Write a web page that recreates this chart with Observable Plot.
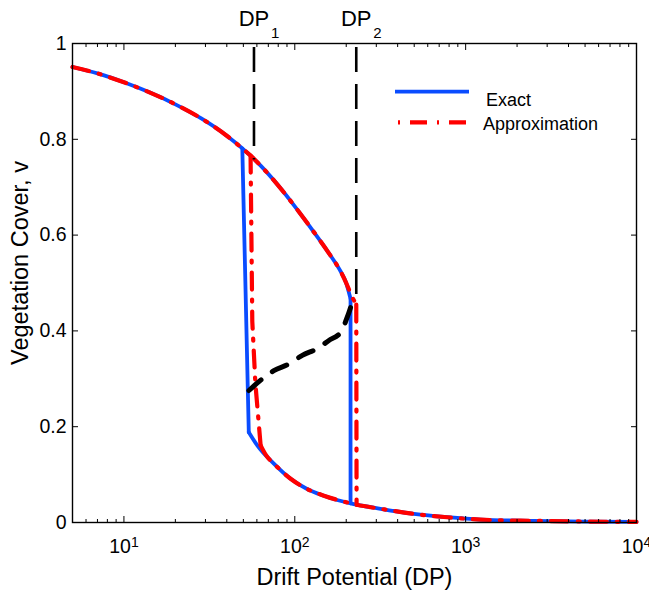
<!DOCTYPE html>
<html><head><meta charset="utf-8">
<script src="https://cdn.jsdelivr.net/npm/d3@7"></script>
<script src="https://cdn.jsdelivr.net/npm/@observablehq/plot@0.6"></script>
<style>
html,body{margin:0;padding:0;background:#fff;}
#chart{width:649px;height:593px;}
</style></head><body><div id="chart"></div>
<script>
// ---- data ----
const exactUpperDP = [5, 7.08, 10, 14.1, 20, 28.2, 39.8, 49.3, 63.1, 79.4, 100, 125.9, 158.5, 186.2, 199.5, 212];
const exactUpperV  = [0.951, 0.937, 0.919, 0.898, 0.873, 0.844, 0.808, 0.781, 0.745, 0.705, 0.660, 0.612, 0.562, 0.523, 0.501, 0.467];
const exactLowerDP = [53.8, 60.3, 75.4, 94.5, 118, 148, 212, 318, 498, 780, 1222, 2500, 5000, 10000];
const exactLowerV  = [0.1885, 0.161, 0.123, 0.0913, 0.070, 0.056, 0.040, 0.0286, 0.018, 0.011, 0.006, 0.0035, 0.002, 0.0012];

const approxUpperDP = [5, 7.08, 10, 14.1, 20, 28.2, 39.8, 49.3, 55.1, 63.1, 79.4, 100, 125.9, 158.5, 186.2, 199.5, 214, 229];
const approxUpperV  = [0.951, 0.937, 0.919, 0.898, 0.873, 0.844, 0.808, 0.781, 0.766, 0.745, 0.705, 0.660, 0.612, 0.562, 0.523, 0.501, 0.475, 0.455];
const approxDropDP  = [55.1, 56.4, 58.8, 63.1];
const approxDropV   = [0.766, 0.42, 0.29, 0.161];
const approxLowerDP = [63.1, 68, 75.4, 94.5, 118, 148, 212, 230, 318, 498, 780, 1222, 2500, 5000, 10000];
const approxLowerV  = [0.161, 0.14, 0.123, 0.0913, 0.070, 0.056, 0.040, 0.037, 0.0286, 0.018, 0.011, 0.006, 0.0035, 0.002, 0.0012];

const unstableDP = [53.9, 64.6, 75.4, 92.4, 110.6, 135.4, 158.3, 185.4, 202.8, 217];
const unstableV  = [0.2756, 0.300, 0.317, 0.331, 0.349, 0.363, 0.380, 0.397, 0.4286, 0.46];

const foldDP    = [57.7, 229];
const foldV     = [0.757, 0.47];
const foldLabel = ["1", "2"];

const xMajor = [10, 100, 1000, 10000];
const xMinor = [6, 7, 8, 9, 20, 30, 40, 50, 60, 70, 80, 90, 200, 300, 400, 500, 600, 700, 800, 900, 2000, 3000, 4000, 5000, 6000, 7000, 8000, 9000];
const yTicks = [0, 0.2, 0.4, 0.6, 0.8, 1];
const yTickLabels = ["0", "0.2", "0.4", "0.6", "0.8", "1"];
const seriesNames = ["Exact", "Approximation"];

// ---- build tables ----
const pts = (dps, vs) => dps.map((d, i) => ({dp: d, v: vs[i]}));
const exactUpper = pts(exactUpperDP, exactUpperV);
const exactLower = pts(exactLowerDP, exactLowerV);
const iUp = exactUpperDP.indexOf(49.3);
const exactJumps = [
  {...exactUpper[iUp], g: 0}, {...exactLower[0], g: 0},
  {...exactUpper[exactUpper.length - 1], g: 1},
  {...exactLower[exactLowerDP.indexOf(212)], g: 1}
];
const approxUpper = pts(approxUpperDP, approxUpperV);
const approxDrop = pts(approxDropDP, approxDropV);
const approxLower = pts(approxLowerDP, approxLowerV);
const approxJump2 = [approxUpper[approxUpper.length - 1], approxLower[approxLowerDP.indexOf(230)]];
const unstable = pts(unstableDP, unstableV);
const folds = foldDP.map((d, i) => ({dp: d, v: foldV[i], lab: foldLabel[i]}));

const BLUE = "#0a4cff", RED = "#ff0000";
const FONT = '"Liberation Sans", Arial, Helvetica, sans-serif';
const redDash = "17 10 2 10";

const chart = Plot.plot({
  width: 649, height: 593,
  marginLeft: 72, marginRight: 13, marginTop: 43, marginBottom: 71,
  x: {type: "log", domain: [5, 10000]},
  y: {domain: [0, 1]},
  style: {fontFamily: FONT, fontSize: "19px", color: "black", background: "white", overflow: "visible"},
  marks: [
    // blue exact
    Plot.line(exactUpper, {x: "dp", y: "v", stroke: BLUE, strokeWidth: 3.8, curve: "monotone-x"}),
    Plot.line(exactLower, {x: "dp", y: "v", stroke: BLUE, strokeWidth: 3.8, curve: "monotone-x"}),
    Plot.line(exactJumps, {x: "dp", y: "v", z: "g", stroke: BLUE, strokeWidth: 3.8}),
    // red approximation
    Plot.line(approxUpper, {x: "dp", y: "v", stroke: RED, strokeWidth: 4.2, curve: "monotone-x", strokeDasharray: redDash}),
    Plot.line(approxDrop, {x: "dp", y: "v", stroke: RED, strokeWidth: 4.2, strokeDasharray: redDash}),
    Plot.line(approxLower, {x: "dp", y: "v", stroke: RED, strokeWidth: 4.2, curve: "monotone-x", strokeDasharray: redDash}),
    Plot.line(approxJump2, {x: "dp", y: "v", stroke: RED, strokeWidth: 4.2, strokeDasharray: redDash}),
    // black dashed
    Plot.line(unstable, {x: "dp", y: "v", stroke: "black", strokeWidth: 5, curve: "monotone-x", strokeDasharray: "16 14"}),
    Plot.ruleX(folds, {x: "dp", y1: 1, y2: "v", stroke: "black", strokeWidth: 2.6, strokeDasharray: "25 12", strokeDashoffset: -4}),
    // DP labels
    Plot.text(folds, {x: "dp", frameAnchor: "top", lineAnchor: "middle", dy: -25, text: () => "DP", fontSize: 22, fill: "black"}),
    Plot.text(folds, {x: "dp", frameAnchor: "top", lineAnchor: "middle", dy: -10, dx: 17, textAnchor: "start", text: "lab", fontSize: 15, fill: "black"}),
    // axes (ticks inside)
    Plot.axisX(xMajor, {anchor: "bottom", tickSize: -6, tickFormat: () => "", label: null}),
    Plot.axisX(xMinor, {anchor: "bottom", tickSize: -3, tickFormat: () => "", label: null}),
    Plot.axisX(xMajor, {anchor: "top", tickSize: -6, tickFormat: () => "", label: null}),
    Plot.axisX(xMinor, {anchor: "top", tickSize: -3, tickFormat: () => "", label: null}),
    Plot.axisX(xMajor, {anchor: "bottom", tickSize: 0, tickPadding: 17, fontSize: 19.5, tickFormat: d => `10^${Math.round(Math.log10(d))}`, label: null}),
    Plot.axisY(yTicks, {anchor: "left", tickSize: -6, tickFormat: () => "", label: null}),
    Plot.axisY(yTicks, {anchor: "right", tickSize: -6, tickFormat: () => "", label: null}),
    Plot.axisY(yTicks, {anchor: "left", tickSize: 0, tickPadding: 6, fontSize: 19.5, tickFormat: d => yTickLabels[yTicks.indexOf(d)], label: null}),
    Plot.frame({stroke: "black", strokeWidth: 1.4}),
    // axis titles
    Plot.text(["Drift Potential (DP)"], {frameAnchor: "bottom", lineAnchor: "middle", textAnchor: "middle", dy: 55, fontSize: 23.5, fill: "black"}),
    Plot.text(["Vegetation Cover, v"], {frameAnchor: "left", lineAnchor: "middle", textAnchor: "middle", dx: -52, dy: -20, rotate: -90, fontSize: 23.5, fill: "black"})
  ]
});

// superscripts for 10^n
chart.querySelectorAll('g[aria-label="x-axis tick label"] text').forEach(t => {
  const s = t.textContent;
  if (!s.includes("^")) return;
  const [base, exp] = s.split("^");
  while (t.firstChild) t.removeChild(t.firstChild);
  t.appendChild(document.createTextNode(base));
  const ts = document.createElementNS("http://www.w3.org/2000/svg", "tspan");
  ts.setAttribute("dy", "-0.45em");
  ts.setAttribute("font-size", "14");
  ts.textContent = exp;
  t.appendChild(ts);
});

// legend inside the axes
const svg = d3.select(chart);
const lg = svg.append("g").attr("font-family", FONT).attr("font-size", 18).attr("text-anchor", "start");
lg.append("line").attr("x1", 395).attr("x2", 469).attr("y1", 91.7).attr("y2", 91.7)
  .attr("stroke", BLUE).attr("stroke-width", 3.8);
lg.append("text").attr("x", 486).attr("y", 106).attr("fill", "black").text(seriesNames[0]);
lg.append("line").attr("x1", 398).attr("x2", 466).attr("y1", 122.3).attr("y2", 122.3)
  .attr("stroke", RED).attr("stroke-width", 4.2).attr("stroke-dasharray", "2 10 17 10");
lg.append("text").attr("x", 483).attr("y", 129.5).attr("fill", "black").text(seriesNames[1]);

document.getElementById("chart").appendChild(chart);
</script></body></html>
